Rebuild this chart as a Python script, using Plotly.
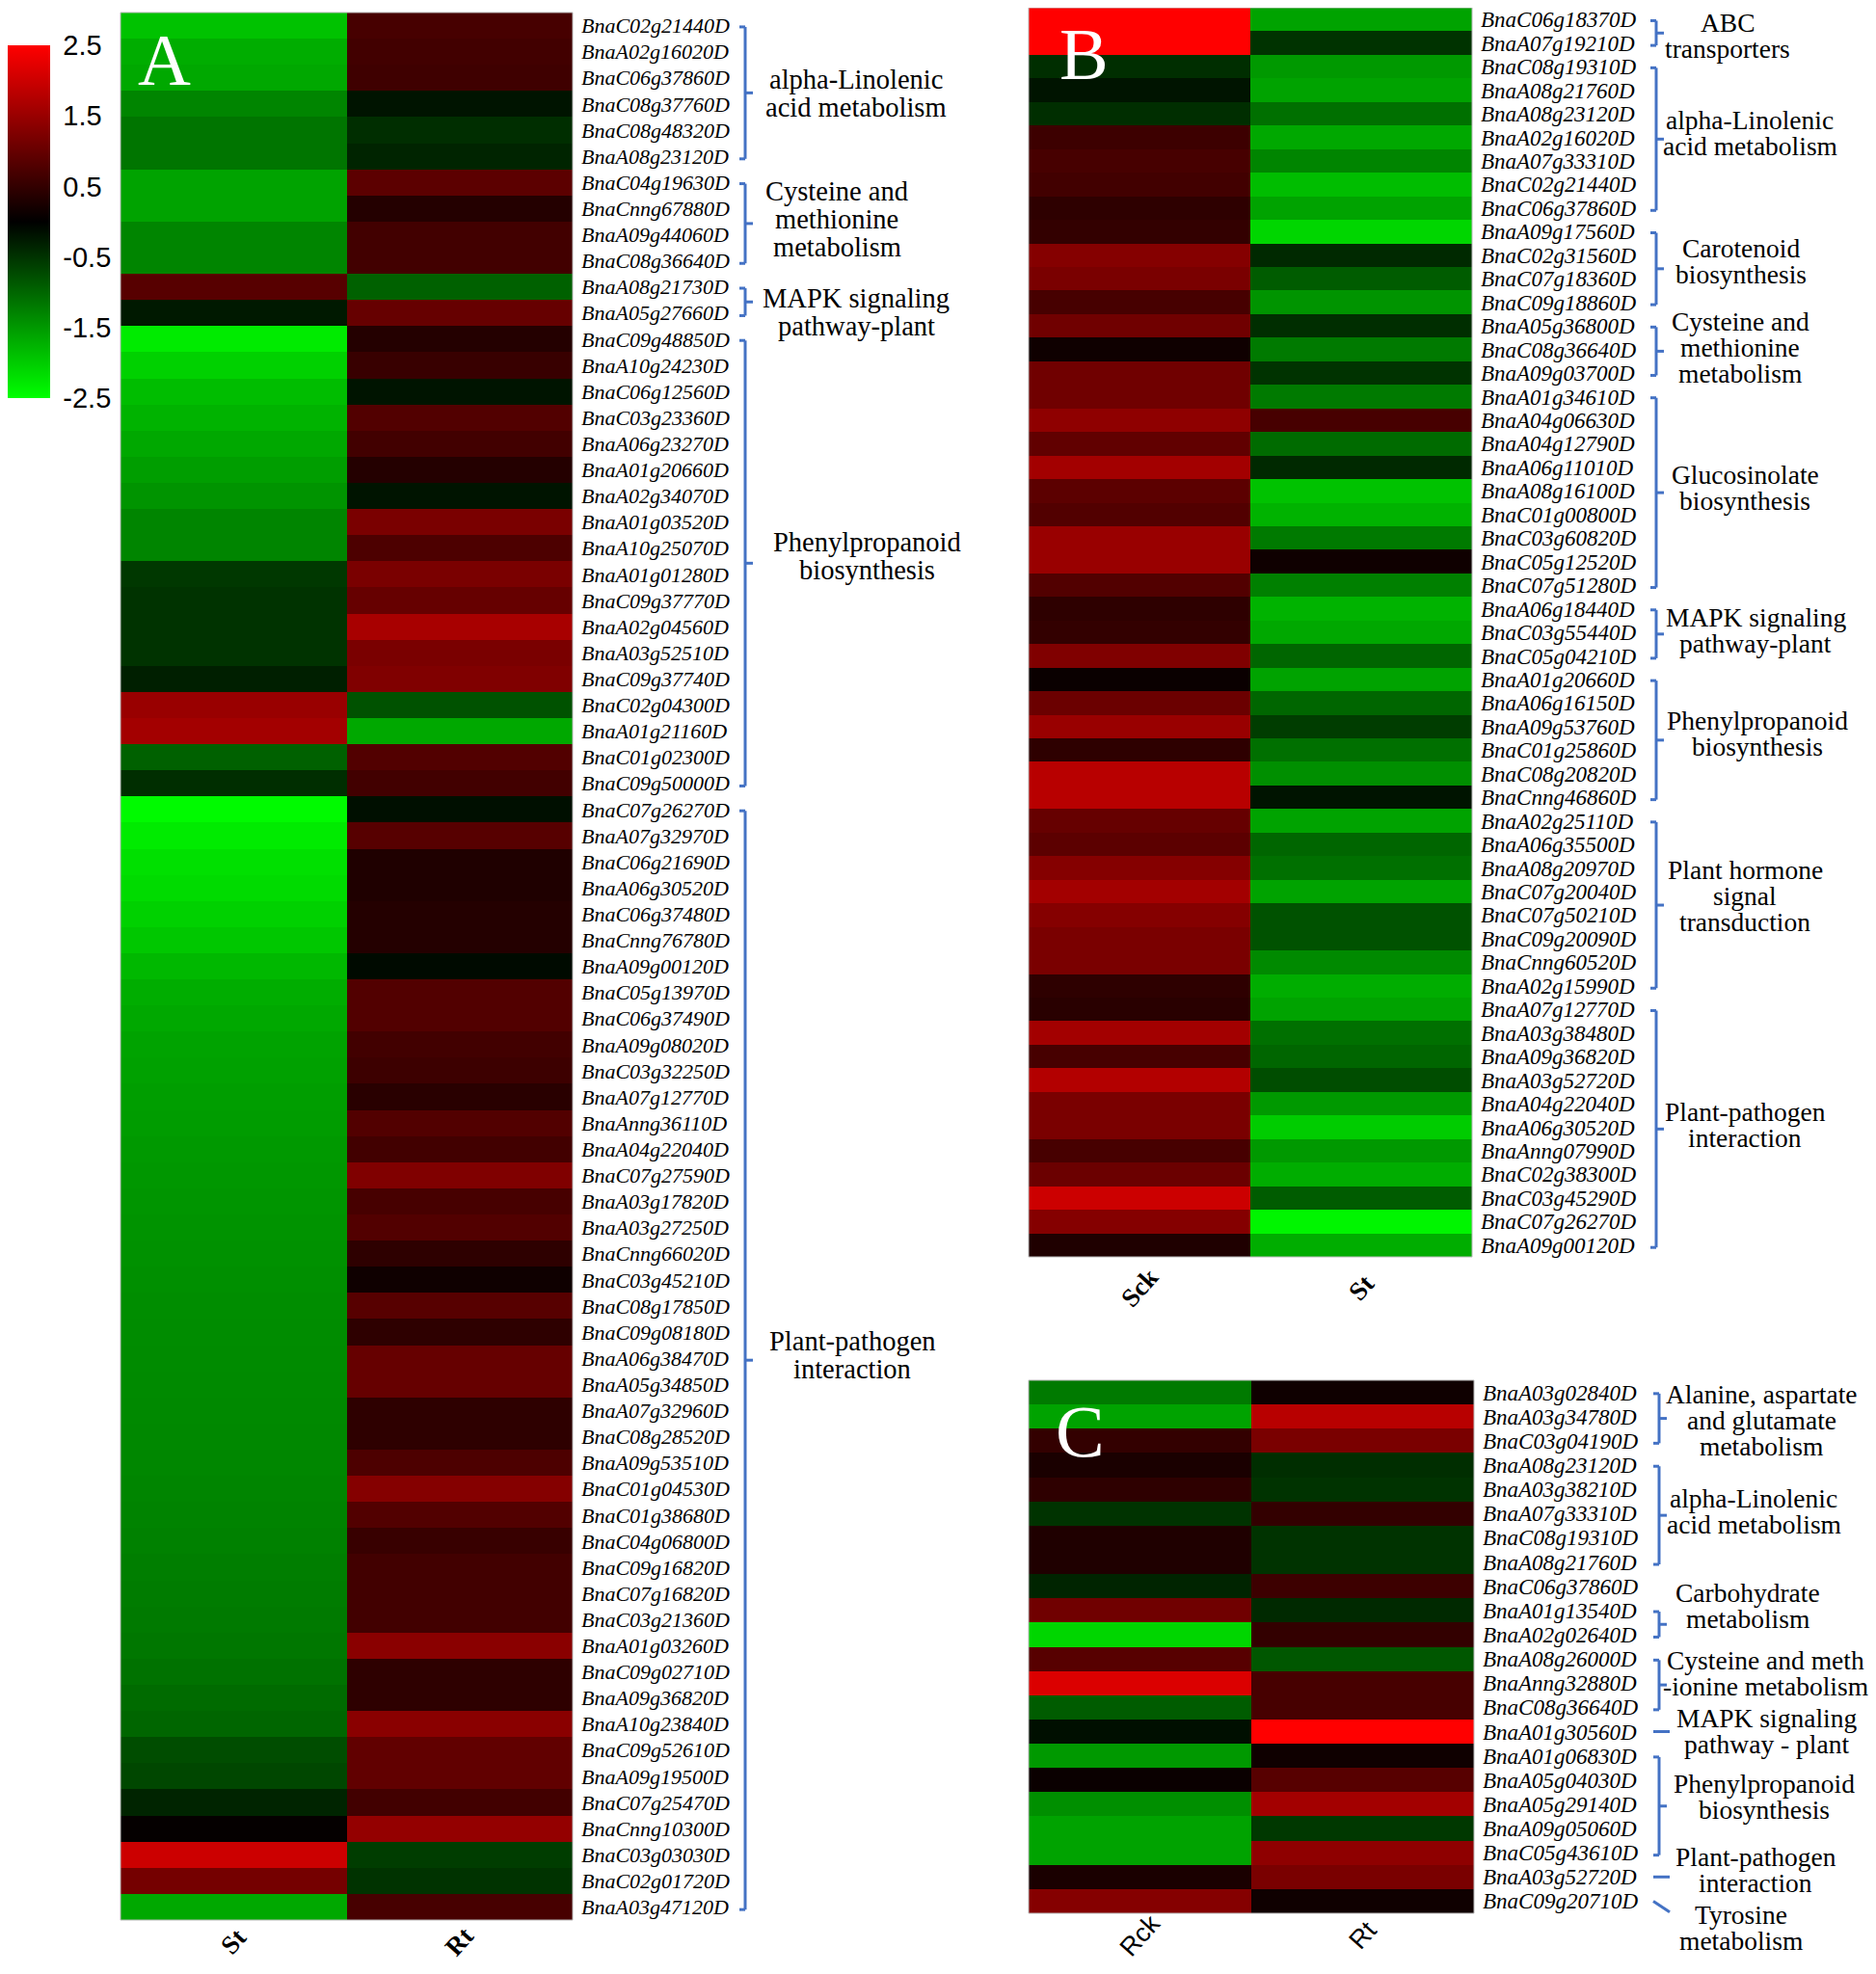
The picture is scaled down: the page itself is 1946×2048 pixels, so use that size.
import plotly.graph_objects as go

# ---------------- data ----------------
a_genes = ["BnaC02g21440D", "BnaA02g16020D", "BnaC06g37860D", "BnaC08g37760D", "BnaC08g48320D",
           "BnaA08g23120D", "BnaC04g19630D", "BnaCnng67880D", "BnaA09g44060D", "BnaC08g36640D",
           "BnaA08g21730D", "BnaA05g27660D", "BnaC09g48850D", "BnaA10g24230D", "BnaC06g12560D",
           "BnaC03g23360D", "BnaA06g23270D", "BnaA01g20660D", "BnaA02g34070D", "BnaA01g03520D",
           "BnaA10g25070D", "BnaA01g01280D", "BnaC09g37770D", "BnaA02g04560D", "BnaA03g52510D",
           "BnaC09g37740D", "BnaC02g04300D", "BnaA01g21160D", "BnaC01g02300D", "BnaC09g50000D",
           "BnaC07g26270D", "BnaA07g32970D", "BnaC06g21690D", "BnaA06g30520D", "BnaC06g37480D",
           "BnaCnng76780D", "BnaA09g00120D", "BnaC05g13970D", "BnaC06g37490D", "BnaA09g08020D",
           "BnaC03g32250D", "BnaA07g12770D", "BnaAnng36110D", "BnaA04g22040D", "BnaC07g27590D",
           "BnaA03g17820D", "BnaA03g27250D", "BnaCnng66020D", "BnaC03g45210D", "BnaC08g17850D",
           "BnaC09g08180D", "BnaA06g38470D", "BnaA05g34850D", "BnaA07g32960D", "BnaC08g28520D",
           "BnaA09g53510D", "BnaC01g04530D", "BnaC01g38680D", "BnaC04g06800D", "BnaC09g16820D",
           "BnaC07g16820D", "BnaC03g21360D", "BnaA01g03260D", "BnaC09g02710D", "BnaA09g36820D",
           "BnaA10g23840D", "BnaC09g52610D", "BnaA09g19500D", "BnaC07g25470D", "BnaCnng10300D",
           "BnaC03g03030D", "BnaC02g01720D", "BnaA03g47120D"]
a_st = [-1.9, -1.7, -1.65, -1.3, -1.15, -1.15, -1.6, -1.6, -1.3, -1.3,
        0.85, -0.25, -2.3, -2.05, -1.85, -1.75, -1.65, -1.55, -1.45, -1.3,
        -1.3, -0.55, -0.5, -0.5, -0.5, -0.3, 1.5, 1.6, -0.95, -0.45,
        -2.45, -2.3, -2.2, -2.15, -2.05, -1.95, -1.8, -1.7, -1.65, -1.6,
        -1.58, -1.55, -1.53, -1.5, -1.48, -1.46, -1.44, -1.42, -1.4, -1.38,
        -1.37, -1.36, -1.35, -1.34, -1.33, -1.32, -1.3, -1.28, -1.26, -1.24,
        -1.22, -1.2, -1.17, -1.12, -1.05, -1.0, -0.75, -0.7, -0.35, 0.05,
        2.0, 1.15, -1.65]
a_rt = [0.7, 0.65, 0.62, -0.2, -0.45, -0.35, 0.9, 0.35, 0.65, 0.65,
        -0.95, 1.0, 0.35, 0.55, -0.2, 0.8, 0.65, 0.35, -0.2, 1.2,
        0.75, 1.2, 1.0, 1.65, 1.2, 1.25, -0.8, -1.65, 0.8, 0.65,
        -0.15, 0.85, 0.3, 0.3, 0.35, 0.35, -0.1, 0.8, 0.8, 0.65,
        0.6, 0.4, 0.8, 0.65, 1.25, 0.7, 0.8, 0.45, 0.15, 0.85,
        0.45, 1.0, 1.0, 0.45, 0.45, 0.75, 1.3, 0.8, 0.55, 0.65,
        0.65, 0.65, 1.35, 0.45, 0.45, 1.35, 0.95, 0.95, 0.65, 1.45,
        -0.6, -0.5, 0.7]

b_genes = ["BnaC06g18370D", "BnaA07g19210D", "BnaC08g19310D", "BnaA08g21760D", "BnaA08g23120D",
           "BnaA02g16020D", "BnaA07g33310D", "BnaC02g21440D", "BnaC06g37860D", "BnaA09g17560D",
           "BnaC02g31560D", "BnaC07g18360D", "BnaC09g18860D", "BnaA05g36800D", "BnaC08g36640D",
           "BnaA09g03700D", "BnaA01g34610D", "BnaA04g06630D", "BnaA04g12790D", "BnaA06g11010D",
           "BnaA08g16100D", "BnaC01g00800D", "BnaC03g60820D", "BnaC05g12520D", "BnaC07g51280D",
           "BnaA06g18440D", "BnaC03g55440D", "BnaC05g04210D", "BnaA01g20660D", "BnaA06g16150D",
           "BnaA09g53760D", "BnaC01g25860D", "BnaC08g20820D", "BnaCnng46860D", "BnaA02g25110D",
           "BnaA06g35500D", "BnaA08g20970D", "BnaC07g20040D", "BnaC07g50210D", "BnaC09g20090D",
           "BnaCnng60520D", "BnaA02g15990D", "BnaA07g12770D", "BnaA03g38480D", "BnaA09g36820D",
           "BnaA03g52720D", "BnaA04g22040D", "BnaA06g30520D", "BnaAnng07990D", "BnaC02g38300D",
           "BnaC03g45290D", "BnaC07g26270D", "BnaA09g00120D"]
b_sck = [2.5, 2.5, -0.45, -0.2, -0.45, 0.6, 0.7, 0.65, 0.45, 0.5,
         1.3, 1.2, 0.7, 1.1, 0.15, 1.1, 1.1, 1.4, 0.95, 1.6,
         0.9, 0.8, 1.5, 1.5, 0.8, 0.45, 0.5, 1.25, 0.1, 1.05,
         1.5, 0.45, 1.8, 1.8, 1.0, 0.9, 1.3, 1.6, 1.3, 1.2,
         1.2, 0.45, 0.4, 1.6, 0.7, 1.75, 1.2, 1.2, 0.7, 1.05,
         2.0, 1.3, 0.3]
b_st = [-1.6, -0.5, -1.5, -1.6, -1.1, -1.65, -1.3, -1.85, -1.6, -2.1,
        -0.4, -0.9, -1.45, -0.45, -1.2, -0.5, -1.2, 0.7, -1.05, -0.4,
        -1.9, -1.75, -1.2, 0.15, -1.25, -1.75, -1.65, -1.0, -1.6, -1.0,
        -0.6, -1.1, -1.4, -0.2, -1.6, -1.0, -1.1, -1.6, -0.8, -0.8,
        -1.35, -1.7, -1.6, -1.1, -1.0, -0.75, -1.5, -2.0, -1.5, -1.7,
        -0.9, -2.4, -1.7]

c_genes = ["BnaA03g02840D", "BnaA03g34780D", "BnaC03g04190D", "BnaA08g23120D", "BnaA03g38210D",
           "BnaA07g33310D", "BnaC08g19310D", "BnaA08g21760D", "BnaC06g37860D", "BnaA01g13540D",
           "BnaA02g02640D", "BnaA08g26000D", "BnaAnng32880D", "BnaC08g36640D", "BnaA01g30560D",
           "BnaA01g06830D", "BnaA05g04030D", "BnaA05g29140D", "BnaA09g05060D", "BnaC05g43610D",
           "BnaA03g52720D", "BnaC09g20710D"]
c_rck = [-1.2, -1.6, 0.5, 0.25, 0.45, -0.5, 0.3, 0.3, -0.35, 1.1,
         -2.1, 0.85, 2.15, -0.9, -0.15, -1.5, 0.1, -1.4, -1.6, -1.6,
         0.25, 1.3]
c_rt = [0.15, 1.8, 1.2, -0.45, -0.5, 0.5, -0.5, -0.5, 0.6, -0.4,
        0.5, -0.85, 0.7, 0.7, 2.5, 0.15, 0.85, 1.6, -0.55, 1.4,
        1.2, 0.15]

cols_a = ["St", "Rt"]
cols_b = ["Sck", "St"]
cols_c = ["Rck", "Rt"]
cbar_ticks = [2.5, 1.5, 0.5, -0.5, -1.5, -2.5]

a_groups = [("alpha-Linolenic|acid metabolism", 0, 5),
            ("Cysteine and|methionine|metabolism", 6, 9),
            ("MAPK signaling|pathway-plant", 10, 11),
            ("Phenylpropanoid|biosynthesis", 12, 29),
            ("Plant-pathogen|interaction", 30, 72)]
b_groups = [("ABC|transporters", 0, 1),
            ("alpha-Linolenic|acid metabolism", 2, 8),
            ("Carotenoid|biosynthesis", 9, 12),
            ("Cysteine and|methionine|metabolism", 13, 15),
            ("Glucosinolate|biosynthesis", 16, 24),
            ("MAPK signaling|pathway-plant", 25, 27),
            ("Phenylpropanoid|biosynthesis", 28, 33),
            ("Plant hormone|signal|transduction", 34, 41),
            ("Plant-pathogen|interaction", 42, 52)]
c_groups = [("Alanine, aspartate|and glutamate|metabolism", 0, 2),
            ("alpha-Linolenic|acid metabolism", 3, 7),
            ("Carbohydrate|metabolism", 9, 10),
            ("Cysteine and meth|-ionine metabolism", 11, 13),
            ("MAPK signaling|pathway - plant", 14, 14),
            ("Phenylpropanoid|biosynthesis", 15, 19),
            ("Plant-pathogen|interaction", 20, 20),
            ("Tyrosine|metabolism", 21, 21)]

# ---------------- layout helpers ----------------
OFF = 8                      # default page body margin
W, H = 1946 - 2 * OFF, 2048 - 2 * OFF


def fx(px):
    return min(1.0, max(0.0, (px - OFF) / W))


def fy(py):
    return min(1.0, max(0.0, 1 - (py - OFF) / H))


SERIF = "Liberation Serif"
SANS = "Liberation Sans"
BLUE = "rgb(68,114,196)"
colorscale = [[0.0, "rgb(0,255,0)"], [0.5, "rgb(0,0,0)"], [1.0, "rgb(255,0,0)"]]

panels = [
    dict(genes=a_genes, cols=cols_a, v1=a_st, v2=a_rt, groups=a_groups, xa="x", ya="y",
         box=(125, 594, 13, 1992), font=22, bx=773,
         text_pos=[(888, 2.6), (868, 7.4), (888, 10.98), (899, 20.3), (884, 50.9)],
         tfont=28.5, tspace=29, letter=("A", 170, 62), col_y=2014, col_bold=True),
    dict(genes=b_genes, cols=cols_b, v1=b_sck, v2=b_st, groups=b_groups, xa="x2", ya="y2",
         box=(1067, 1527, 2, 1304), font=23, bx=1718,
         text_pos=[(1792, 0.67), (1815, 4.8), (1806, 10.24), (1805, 13.9), (1810, 19.85),
                   (1821, 25.9), (1823, 30.3), (1810, 37.2), (1810, 46.9)],
         tfont=27.5, tspace=27, letter=("B", 1124, 56), col_y=1336, col_bold=True),
    dict(genes=c_genes, cols=cols_c, v1=c_rck, v2=c_rt, groups=c_groups, xa="x3", ya="y3",
         box=(1067, 1529, 1432, 1985), font=23, bx=1721,
         text_pos=[(1827, 1.16), (1819, 4.92), (1813, 8.8), (1831, 11.6), (1832, 14.0),
                   (1830, 16.7), (1821, 19.7), (1806, 22.1)],
         tfont=27.5, tspace=27, letter=("C", 1120, 1485), col_y=2008, col_bold=False),
]

fig = go.Figure()
shapes = []
annotations = []
layout_axes = {}

for i, p in enumerate(panels):
    x0, x1, y0, y1 = p["box"]
    z = [[a, b] for a, b in zip(p["v1"], p["v2"])]
    tr = go.Heatmap(
        z=z, x=p["cols"], y=p["genes"], xaxis=p["xa"], yaxis=p["ya"],
        colorscale=colorscale, zmin=-2.5, zmax=2.5, showscale=(i == 0),
        hoverinfo="skip", xgap=0, ygap=0,
    )
    if i == 0:
        tr.colorbar = dict(
            x=fx(3), xanchor="left", y=fy(230), yanchor="middle",
            len=366 / H, lenmode="fraction", thickness=44, thicknessmode="pixels",
            xpad=0, ypad=0, outlinewidth=0,
            tickmode="array", tickvals=cbar_ticks, ticktext=[str(t) for t in cbar_ticks],
            tickfont=dict(family=SANS, size=29, color="black"),
            ticks="outside", ticklen=8, tickcolor="rgba(0,0,0,0)",
        )
    fig.add_trace(tr)

    n = len(p["genes"])
    rowh = (y1 - y0) / n
    xkey = "xaxis" + ("" if i == 0 else str(i + 1))
    ykey = "yaxis" + ("" if i == 0 else str(i + 1))
    layout_axes[xkey] = dict(domain=[fx(x0), fx(x1)], anchor=p["ya"], showticklabels=False,
                             showgrid=False, zeroline=False, ticks="", showline=False,
                             range=[-0.5, 1.5], autorange=False, fixedrange=True)
    layout_axes[ykey] = dict(domain=[fy(y1), fy(y0)], anchor=p["xa"], side="right",
                             range=[n - 0.5, -0.5], autorange=False,
                             showgrid=False, zeroline=False, ticks="",
                             showline=False, tickmode="array", tickvals=p["genes"],
                             ticktext=p["genes"], ticklabelstandoff=8,
                             tickfont=dict(family=SERIF, size=p["font"], style="italic",
                                           color="black"),
                             fixedrange=True)

    # thin border around heatmap
    shapes.append(dict(type="rect", xref=p["xa"] + " domain", yref=p["ya"] + " domain",
                       x0=0, x1=1, y0=0, y1=1, line=dict(color="rgb(185,185,185)", width=1)))

    # brackets and pathway labels
    bx = p["bx"]
    for gi, (name, s, e) in enumerate(p["groups"]):
        line = dict(color=BLUE, width=3)
        if s == e:
            if i == 2 and gi == len(p["groups"]) - 1:
                shapes.append(dict(type="line", xref="paper", yref=p["ya"],
                                   x0=fx(bx - 6), x1=fx(bx + 11), y0=s, y1=s + 0.45, line=line))
            else:
                shapes.append(dict(type="line", xref="paper", yref=p["ya"],
                                   x0=fx(bx - 6), x1=fx(bx + 11), y0=s, y1=s, line=line))
        else:
            ys, ye = s + 0.05, e + 0.1
            shapes.append(dict(type="line", xref="paper", yref=p["ya"],
                               x0=fx(bx - 6), x1=fx(bx), y0=ys, y1=ys, line=line))
            shapes.append(dict(type="line", xref="paper", yref=p["ya"],
                               x0=fx(bx), x1=fx(bx), y0=ys, y1=ye, line=line))
            shapes.append(dict(type="line", xref="paper", yref=p["ya"],
                               x0=fx(bx - 6), x1=fx(bx), y0=ye, y1=ye, line=line))
            ym = (ys + ye) / 2
            shapes.append(dict(type="line", xref="paper", yref=p["ya"],
                               x0=fx(bx), x1=fx(bx + 8), y0=ym, y1=ym, line=line))
        tx, ty = p["text_pos"][gi]
        extra = 0.0
        if ty > n - 0.55:          # keep the anchor inside the axis range
            extra = -(ty - (n - 0.55)) * rowh
            ty = n - 0.55
        lines = name.split("|")
        nl = len(lines)
        for li, txt in enumerate(lines):
            annotations.append(dict(
                x=fx(tx), y=ty, xref="paper", yref=p["ya"], text=txt, showarrow=False,
                xanchor="center", yanchor="middle",
                yshift=-(li - (nl - 1) / 2) * p["tspace"] + extra,
                font=dict(family=SERIF, size=p["tfont"], color="black")))

    # panel letter
    lt, lx, ly = p["letter"]
    annotations.append(dict(x=fx(lx), y=fy(ly), xref="paper", yref="paper", text=lt,
                            showarrow=False, xanchor="center", yanchor="middle",
                            font=dict(family=SERIF, size=76, color="white")))

    # column labels
    for c in p["cols"]:
        txt = "<b>%s</b>" % c if p["col_bold"] else c
        annotations.append(dict(
            x=c, y=fy(p["col_y"]), xref=p["xa"], yref="paper", text=txt, showarrow=False,
            xanchor="center", yanchor="middle", textangle=-48,
            font=dict(family=SERIF if p["col_bold"] else SANS, size=27, color="black")))

fig.update_layout(
    width=W, height=H, margin=dict(l=0, r=0, t=0, b=0),
    paper_bgcolor="white", plot_bgcolor="white",
    shapes=shapes, annotations=annotations, showlegend=False,
    **layout_axes,
)

fig.write_html("out.html")
